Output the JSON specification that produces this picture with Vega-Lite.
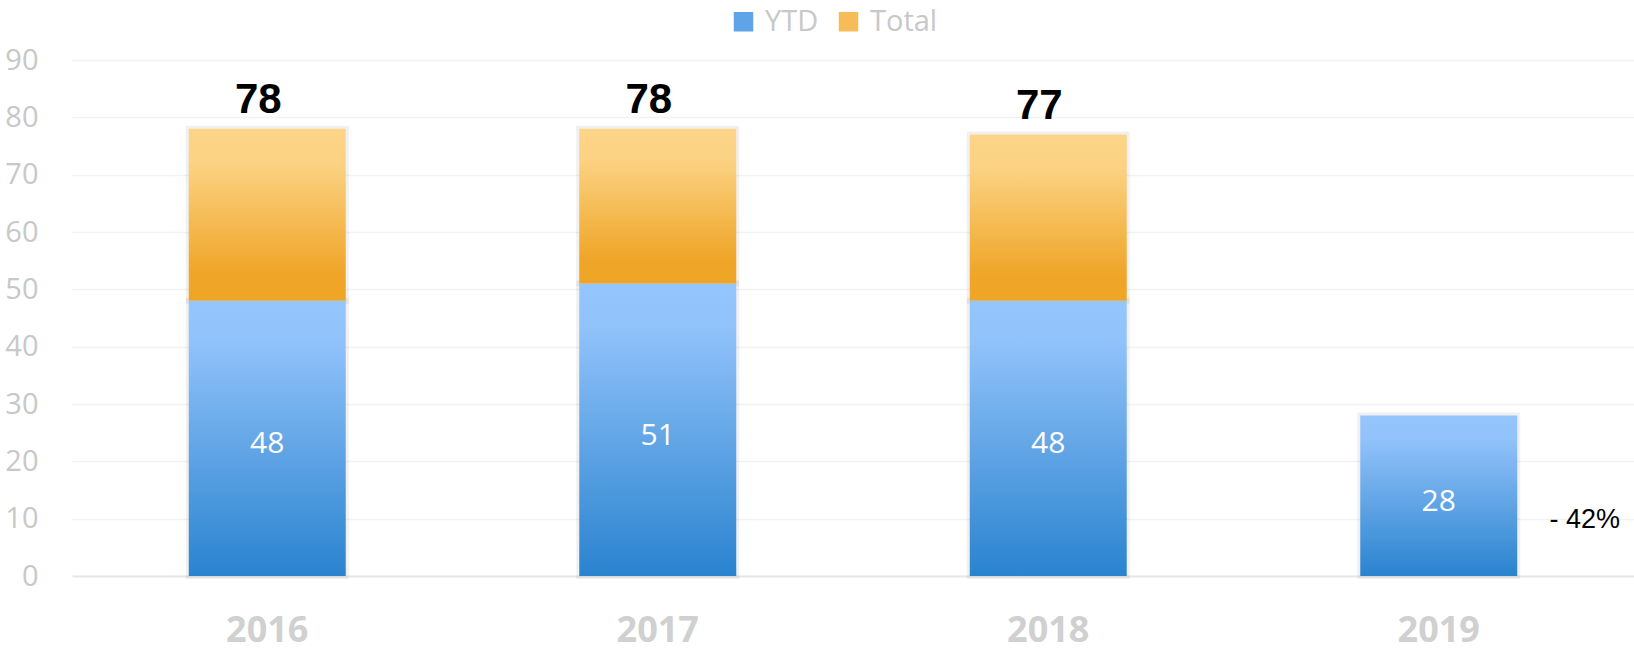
{
  "$schema": "https://vega.github.io/schema/vega-lite/v6.json",
  "autosize": "none",
  "width": 1562,
  "height": 516,
  "padding": {"left": 72, "top": 60, "right": 0, "bottom": 75},
  "background": "white",
  "config": {"view": {"stroke": null}},
  "data": {
    "values": [
      {"year": "2016", "ytd": 48, "total": 78},
      {"year": "2017", "ytd": 51, "total": 78},
      {"year": "2018", "ytd": 48, "total": 77},
      {"year": "2019", "ytd": 28, "total": null, "change": "- 42%", "changeAt": 10}
    ]
  },
  "encoding": {
    "x": {
      "field": "year",
      "type": "ordinal",
      "scale": {"paddingInner": 0.598, "paddingOuter": 0.299},
      "axis": {
        "title": null,
        "labelAngle": 0,
        "ticks": false,
        "domain": false,
        "labelFont": "Open Sans",
        "labelFontWeight": "bold",
        "labelFontSize": 36,
        "labelColor": "#d0d0d0",
        "labelPadding": 37
      }
    }
  },
  "layer": [
    {
      "mark": {"type": "bar", "fill": null, "stroke": "#000000", "strokeOpacity": 0.06, "strokeWidth": 6},
      "encoding": {
        "y": {
          "field": "ytd",
          "type": "quantitative",
          "scale": {"domain": [0, 90]},
          "axis": {
            "title": null,
            "values": [0, 10, 20, 30, 40, 50, 60, 70, 80, 90],
            "ticks": false,
            "domain": false,
            "labelFont": "Open Sans",
            "labelFontSize": 29,
            "labelColor": "#c8c8c8",
            "labelPadding": 34,
            "gridColor": {"condition": {"test": "datum.value === 0", "value": "#e6e6e6"}, "value": "#f2f2f2"},
            "gridWidth": {"condition": {"test": "datum.value === 0", "value": 2}, "value": 1.5}
          }
        }
      }
    },
    {
      "transform": [{"filter": "datum.total != null"}],
      "mark": {"type": "bar", "fill": null, "stroke": "#000000", "strokeOpacity": 0.06, "strokeWidth": 6},
      "encoding": {
        "y": {"field": "total", "type": "quantitative"},
        "y2": {"field": "ytd"}
      }
    },
    {
      "mark": {
        "type": "bar",
        "fill": {
          "gradient": "linear", "x1": 0, "y1": 0, "x2": 0, "y2": 1,
          "stops": [
            {"offset": 0, "color": "#94c5fd"},
            {"offset": 0.15, "color": "#91c2fa"},
            {"offset": 1, "color": "#2a83ce"}
          ]
        }
      },
      "encoding": {
        "y": {"field": "ytd", "type": "quantitative"}
      }
    },
    {
      "transform": [{"filter": "datum.total != null"}],
      "mark": {
        "type": "bar",
        "fill": {
          "gradient": "linear", "x1": 0, "y1": 0, "x2": 0, "y2": 1,
          "stops": [
            {"offset": 0, "color": "#fdd588"},
            {"offset": 0.2, "color": "#fbd283"},
            {"offset": 0.85, "color": "#efa527"},
            {"offset": 1, "color": "#efa526"}
          ]
        }
      },
      "encoding": {
        "y": {"field": "total", "type": "quantitative"},
        "y2": {"field": "ytd"}
      }
    },
    {
      "transform": [{"filter": "datum.total != null"}],
      "mark": {"type": "text", "baseline": "alphabetic", "dx": -9, "dy": -16, "font": "Liberation Sans", "fontWeight": "bold", "fontSize": 42, "color": "black"},
      "encoding": {
        "y": {"field": "total", "type": "quantitative"},
        "text": {"field": "total", "type": "quantitative"}
      }
    },
    {
      "mark": {"type": "text", "baseline": "middle", "dy": 6, "font": "Open Sans", "fontSize": 30, "color": "white"},
      "encoding": {
        "y": {"field": "ytd", "type": "quantitative", "stack": "zero", "bandPosition": 0.5},
        "text": {"field": "ytd", "type": "quantitative"}
      }
    },
    {
      "transform": [{"filter": "datum.change != null"}],
      "mark": {"type": "text", "baseline": "middle", "dx": 146, "dy": 1, "font": "Liberation Sans", "fontSize": 27, "color": "black"},
      "encoding": {
        "y": {"field": "changeAt", "type": "quantitative"},
        "text": {"field": "change"}
      }
    },
    {
      "mark": {"type": "point", "opacity": 0, "filled": true},
      "encoding": {
        "y": {"field": "ytd", "type": "quantitative"},
        "color": {
          "datum": "YTD",
          "type": "nominal",
          "scale": {"domain": ["YTD", "Total"], "range": ["#5fa3e8", "#f6bc58"]},
          "legend": {
            "title": null,
            "orient": "none",
            "legendX": 657,
            "legendY": -53,
            "direction": "horizontal",
            "symbolType": "square",
            "symbolSize": 380,
            "symbolOpacity": 1,
            "symbolStrokeWidth": 0,
            "labelFont": "Open Sans",
            "labelFontSize": 29,
            "labelColor": "#c8c8c8",
            "labelOffset": 7,
            "columnPadding": 15
          }
        }
      }
    },
    {
      "mark": {"type": "point", "opacity": 0, "filled": true},
      "encoding": {
        "y": {"field": "ytd", "type": "quantitative"},
        "color": {"datum": "Total", "type": "nominal"}
      }
    }
  ]
}
